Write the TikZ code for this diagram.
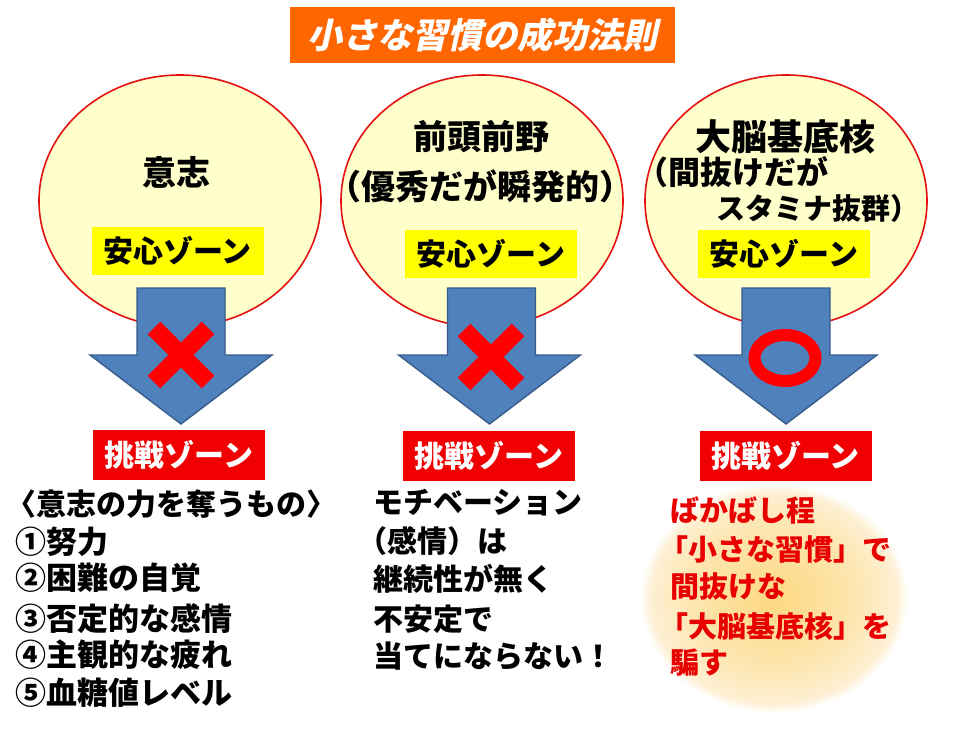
\documentclass[tikz,border=0pt]{standalone}
\usepackage{fontspec}
\setmainfont{Noto Sans CJK JP}
\newfontfamily\titlefont{Noto Sans CJK JP}[FakeSlant=0.22,BoldFeatures={FakeSlant=0.22}]
\usetikzlibrary{shapes.geometric}
\definecolor{ttlorange}{RGB}{255,102,0}
\definecolor{circfill}{RGB}{255,255,204}
\definecolor{circline}{RGB}{228,16,16}
\definecolor{zoneyellow}{RGB}{255,255,0}
\definecolor{arrowblue}{RGB}{79,129,189}
\definecolor{arrowedge}{RGB}{56,93,138}
\definecolor{markred}{RGB}{255,0,0}
\definecolor{zonered}{RGB}{240,0,0}
\definecolor{txtred}{RGB}{232,0,0}
\definecolor{glowin}{RGB}{252,216,128}
\definecolor{glowmid}{RGB}{253,230,178}
\definecolor{glowout}{RGB}{254,240,212}
\pgfdeclareradialshading{glowshade}{\pgfpoint{0bp}{0bp}}{color(0bp)=(glowin); color(16bp)=(glowmid); color(23bp)=(glowout); color(25bp)=(white); color(50bp)=(white)}
\begin{document}
\begin{tikzpicture}[x=1pt,y=-1pt,
  every node/.style={inner sep=0pt, outer sep=0pt},
  bubble/.style={ellipse, draw=circline, line width=1.6pt, fill=circfill, minimum width=282pt, minimum height=252pt},
  safebox/.style={fill=zoneyellow, minimum width=172pt, minimum height=48pt, font=\bfseries\fontsize{30}{34}\selectfont},
  challbox/.style={fill=zonered, minimum width=172pt, minimum height=50pt, text=white, font=\bfseries\fontsize{30}{34}\selectfont},
  bluearrow/.style={fill=arrowblue, draw=arrowedge, line width=1.4pt, line join=miter},
  xmark/.style={draw=markred, line width=18pt},
  head/.style={font=\bfseries\fontsize{34}{38}\selectfont},
  sub/.style={font=\bfseries\fontsize{32}{36}\selectfont, anchor=west},
  btxt/.style={font=\bfseries\fontsize{30}{36}\selectfont, anchor=west},
  rtxt/.style={font=\bfseries\fontsize{29}{36}\selectfont, anchor=west, text=txtred}]
\useasboundingbox (0,0) rectangle (966,730);
\fill[white] (0,0) rectangle (966,730);

% title
\node[fill=ttlorange, minimum width=385pt, minimum height=56pt, text=white,
  font=\titlefont\bfseries\fontsize{35}{40}\selectfont] (title) at (482.5,35) {小さな習慣の成功法則};

% circles
\node[bubble] (c1) at (180,201) {};
\node[bubble] (c2) at (482,201) {};
\node[bubble] (c3) at (786,201) {};

% circle texts
\node[head] (h1) at (176,172) {意志};
\node[head] (h2) at (481,137) {前頭前野};
\node[head] (h2b) at (480,186) {（優秀だが瞬発的）};
\node[font=\bfseries\fontsize{36}{40}\selectfont] (h3) at (785,137) {大脳基底核};
\node[sub] (h3b) at (636,172) {（間抜けだが};
\node[font=\bfseries\fontsize{29}{34}\selectfont, anchor=west] (h3c) at (716,208) {スタミナ抜群）};

% safe zone boxes
\node[safebox] (s1) at (177.5,251) {安心ゾーン};
\node[safebox] (s2) at (491,254) {安心ゾーン};
\node[safebox] (s3) at (784,254) {安心ゾーン};

% arrows
\foreach \cx/\hx in {181/181, 491.5/489.5, 786/786}{
  \draw[bluearrow] (\cx-44,288) -- (\cx+44,288) -- (\cx+44,355) -- (\hx+91,355)
    -- (\hx,424) -- (\hx-91,355) -- (\cx-44,355) -- cycle;
}

% marks
\draw[xmark] (154,328) -- (208,382) (154,382) -- (208,328);
\draw[xmark] (464,330) -- (518,384) (464,384) -- (518,330);
\draw[draw=markred, line width=12pt] (785,358) ellipse [x radius=30.5pt, y radius=23pt];

% challenge boxes
\node[challbox] (z1) at (179,455) {挑戦ゾーン};
\node[challbox] (z2) at (489,455.5) {挑戦ゾーン};
\node[challbox] (z3) at (785.5,455.5) {挑戦ゾーン};

% glow
\shade[shading=glowshade] (774,598) ellipse [x radius=134pt, y radius=115pt];

% left list
\node[btxt] (l0) at (6,504) {〈意志の力を奪うもの〉};
\node[btxt, font=\bfseries\fontsize{31}{36}\selectfont] (l1) at (15,542) {①努力};
\node[btxt, font=\bfseries\fontsize{31}{36}\selectfont] (l2) at (15,578) {②困難の自覚};
\node[btxt, font=\bfseries\fontsize{31}{36}\selectfont] (l3) at (15,619) {③否定的な感情};
\node[btxt, font=\bfseries\fontsize{31}{36}\selectfont] (l4) at (15,655) {④主観的な疲れ};
\node[btxt, font=\bfseries\fontsize{31}{36}\selectfont] (l5) at (15,693) {⑤血糖値レベル};

% middle text
\node[btxt] (m1) at (373,503) {モチベーション};
\node[btxt] (m2) at (357,541) {（感情）は};
\node[btxt] (m3) at (373,579) {継続性が無く};
\node[btxt] (m4) at (373,619) {不安定で};
\node[btxt] (m5) at (373,656) {当てにならない！};

% right red text
\node[rtxt] (r1) at (670,510) {ばかばし程};
\node[rtxt] (r2) at (659,550) {「小さな習慣」で};
\node[rtxt] (r3) at (670,586) {間抜けな};
\node[rtxt] (r4) at (659,627) {「大脳基底核」を};
\node[rtxt] (r5) at (670,663) {騙す};
\end{tikzpicture}
\end{document}
